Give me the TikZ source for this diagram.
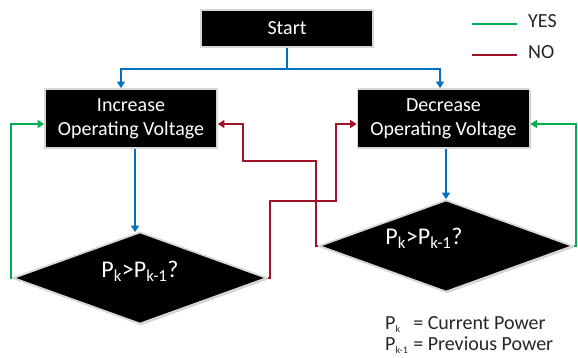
\documentclass[tikz,border=0pt]{standalone}
\usepackage{fontspec}
\setmainfont{Carlito}
\usetikzlibrary{shapes.geometric,arrows.meta,shadows}
\definecolor{flowblue}{RGB}{0,112,192}
\definecolor{flowgreen}{RGB}{0,176,80}
\definecolor{flowred}{RGB}{160,18,40}
\definecolor{frame}{RGB}{215,215,215}
\begin{document}
\begin{tikzpicture}[x=1pt,y=-1pt,
  procbox/.style={rectangle, fill=black, draw=frame, line width=1.8pt,
    text=white, font=\fontsize{20}{24}\selectfont, align=center, inner sep=0pt,
    minimum width=172pt, drop shadow={shadow xshift=1.2pt, shadow yshift=-1.5pt, fill=black!30, opacity=0.6}},
  decision/.style={diamond, fill=black, draw=frame, line width=1.8pt, aspect=2.76,
    minimum width=254pt, minimum height=92pt, inner sep=0pt,
    drop shadow={shadow xshift=1.2pt, shadow yshift=-1.5pt, fill=black!30, opacity=0.6}},
  dectext/.style={text=white, font=\fontsize{24}{28}\selectfont, inner sep=0pt},
  conn/.style={line width=2.4pt, -{Triangle[width=8pt,length=6.5pt]}},
  bluearrow/.style={conn, flowblue},
  greenarrow/.style={conn, flowgreen},
  redarrow/.style={conn, flowred},
  legline/.style={line width=2.4pt},
  legtext/.style={font=\fontsize{20}{24}\selectfont, text=black!85, inner sep=0pt}
]
\useasboundingbox (0,0) rectangle (578,358);

% boxes
\node[procbox, minimum height=37pt] (start) at (287,28.5) {Start};
\node[procbox, minimum height=59pt] (inc) at (131,118.5) {Increase\\Operating Voltage};
\node[procbox, minimum height=59pt] (dec) at (443.5,118.5) {Decrease\\Operating Voltage};

% decisions
\node[decision] (ldia) at (140,278) {};
\node[decision] (rdia) at (446,246) {};
\node[dectext] (ltext) at (140,271) {P\textsubscript{k}>P\textsubscript{k-1}?};
\node[dectext] (rtext) at (424,238) {P\textsubscript{k}>P\textsubscript{k-1}?};

% helper coordinates
\coordinate (jn) at (287,69);
\coordinate (lx) at (135,0);
\coordinate (gl) at (11,0);
\coordinate (gr) at (576,0);
\coordinate (r1a) at (316,161);
\coordinate (r1b) at (243,161);
\coordinate (r2a) at (270,201);
\coordinate (r2b) at (336,201);

% blue flow
\draw[bluearrow] (start.south) -- (jn) -| ([xshift=-10pt]inc.north);
\draw[bluearrow] (jn) -| ([xshift=-3.5pt]dec.north);
\draw[bluearrow] (inc.south -| lx) -- ([yshift=-1pt]ldia.north -| lx);
\draw[bluearrow] (dec.south -| rdia.north) -- (rdia.north);

% yes loops
\draw[greenarrow] (ldia.west) -- (ldia.west -| gl) |- ([yshift=-5.5pt]inc.west);
\draw[greenarrow] (rdia.east) -- (rdia.east -| gr) |- ([yshift=-5.5pt]dec.east);

% no loops
\draw[redarrow] (rdia.west) -| (r1a) -- (r1b) |- ([yshift=-5.5pt]inc.east);
\draw[redarrow] (ldia.east) -| (r2a) -- (r2b) |- ([yshift=-5.5pt]dec.west);

% legend
\coordinate (ys) at (472,24);
\coordinate (ye) at (517,24);
\coordinate (ns) at (472,55);
\coordinate (ne) at (517,55);
\draw[legline, flowgreen] (ys) -- (ye);
\draw[legline, flowred] (ns) -- (ne);
\node[legtext, anchor=west] (yes) at (528,21) {YES};
\node[legtext, anchor=west] (no) at (528,52.5) {NO};

\node[legtext, anchor=west, align=left] (defs) at (385,335.5) {%
  \begin{tabular}{@{}l@{\hspace{5pt}}l@{}}
  P\textsubscript{\fontsize{10}{10}\selectfont k} & = Current Power\\[-3pt]
  P\textsubscript{\fontsize{10}{10}\selectfont k-1} & = Previous Power
  \end{tabular}};
\end{tikzpicture}
\end{document}
